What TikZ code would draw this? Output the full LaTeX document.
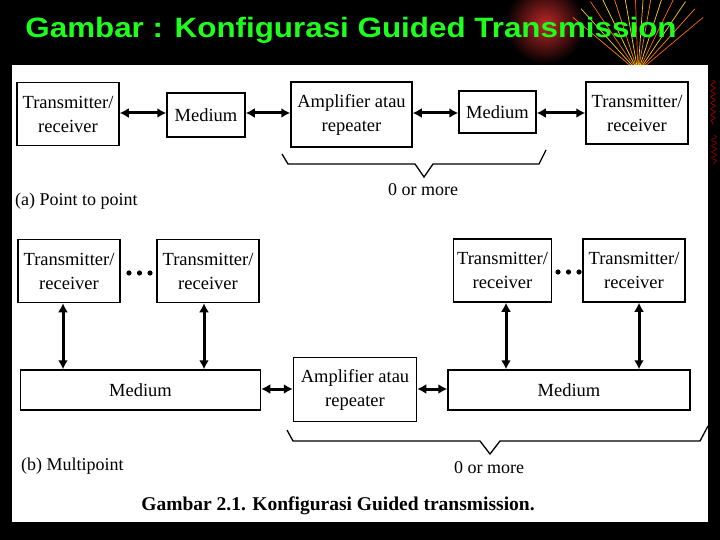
\documentclass[tikz,border=0pt]{standalone}
\usepackage{fontspec}
\setmainfont{Liberation Serif}
\newfontfamily\titlefont{Liberation Sans}
\usetikzlibrary{arrows.meta,decorations.pathmorphing,calc}
\definecolor{titlegreen}{RGB}{30,255,30}
\definecolor{glowred}{RGB}{190,40,40}
\tikzset{
 blk/.style={draw=black, line width=1.5pt, fill=white, inner sep=0pt, align=center, font=\fontsize{18.5}{24}\selectfont},
 arr/.style={draw=black, line width=3pt, >={Latex[length=9pt,width=10pt]}, <->},
 bracepath/.style={line width=1.3pt, line join=miter},
 lbl/.style={font=\fontsize{18}{20}\selectfont, inner sep=0pt},
 ray/.style={line width=0.7pt}
}
\begin{document}
\begin{tikzpicture}[x=1pt,y=-1pt]
\useasboundingbox (0,0) rectangle (720,540);
\fill[black] (0,0) rectangle (720,540);
% background decoration
\shade[inner color=glowred, outer color=black] (545,24) circle (40);
\foreach \a/\c in {100/orange,108/yellow!80!orange,116/orange!80!red,124/yellow!70!orange,132/orange,140/orange!80!red,72/orange,64/yellow!80!orange,56/orange!80!red,48/yellow!70!orange,40/orange,80/yellow!80!orange,88/orange!70!red,94/yellow!60!orange}{
  \draw[ray,\c] (638,72) -- ++(\a:-85);
}
\draw[red!60!black, line width=0.8pt, decorate, decoration={snake, amplitude=2pt, segment length=6pt}] (713,80) -- (713,125);
\draw[red!50!black, line width=0.8pt, decorate, decoration={snake, amplitude=2.5pt, segment length=6pt}] (714,135) -- (714,165);
% white panel
\fill[white] (12,65) rectangle (708,522);
% title
\node[text=titlegreen, inner sep=0pt] (title) at (351,30) {\scalebox{1.12}[1]{\titlefont\bfseries\fontsize{28}{30}\selectfont Gambar : Konfigurasi Guided Transmission}};

% (a) point to point
\node[blk, minimum width=102pt, minimum height=63pt] (tr1) at (68,114) {Transmitter/\\receiver};
\node[blk, minimum width=78pt, minimum height=44pt] (med1) at (206,115) {Medium};
\node[blk, minimum width=121pt, minimum height=65pt] (amp1) at (351.5,114.5) {Amplifier atau\\repeater};
\node[blk, minimum width=77pt, minimum height=42pt] (med2) at (497.5,112) {Medium};
\node[blk, minimum width=102pt, minimum height=62pt] (tr2) at (637,113) {Transmitter/\\receiver};

\draw[arr] (tr1.east |- 0,113) -- (med1.west |- 0,113);
\draw[arr] (med1.east |- 0,113) -- (amp1.west |- 0,113);
\draw[arr] (amp1.east |- 0,113) -- (med2.west |- 0,113);
\draw[arr] (med2.east |- 0,113) -- (tr2.west |- 0,113);

\draw[bracepath] (282,154) -- (288,164) -- (415,164) -- (424,177) -- (433,164) -- (539,164) -- (546,150);
\node[lbl] (more1) at (423,190) {0 or more};
\node[lbl, anchor=west] (laba) at (15,201) {(a) Point to point};

% (b) multipoint
\node[blk, minimum width=102pt, minimum height=63pt] (tr3) at (69,271) {Transmitter/\\receiver};
\node[blk, minimum width=102pt, minimum height=63pt] (tr4) at (208,271) {Transmitter/\\receiver};
\node[blk, minimum width=98pt, minimum height=63pt] (tr5) at (502.5,270.5) {Transmitter/\\receiver};
\node[blk, minimum width=102pt, minimum height=63pt] (tr6) at (634,270.5) {Transmitter/\\receiver};
\node[blk, minimum width=240pt, minimum height=40pt] (med3) at (140.5,390) {Medium};
\node[blk, minimum width=123pt, minimum height=64pt] (amp2) at (355,389.5) {Amplifier atau\\repeater};
\node[blk, minimum width=242pt, minimum height=40pt] (med4) at (569,390) {Medium};

\foreach \x in {129,139.5,150}{\fill (\x,273) circle (2.6);}
\foreach \x in {558,568.5,579}{\fill (\x,272) circle (2.6);}

\draw[arr] (tr3.south -| 63,0) -- (med3.north -| 63,0);
\draw[arr] (tr4.south -| 204,0) -- (med3.north -| 204,0);
\draw[arr] (tr5.south -| 506,0) -- (med4.north -| 506,0);
\draw[arr] (tr6.south -| 639,0) -- (med4.north -| 639,0);
\draw[arr] (med3.east |- 0,389) -- (amp2.west |- 0,389);
\draw[arr] (amp2.east |- 0,389) -- (med4.west |- 0,389);

\draw[bracepath] (287,430) -- (293,441) -- (480,441) -- (490,454) -- (500,441) -- (700,441) -- (708,426);
\node[lbl] (more2) at (489,468) {0 or more};
\node[lbl, anchor=west] (labb) at (21,466) {(b) Multipoint};

\node[inner sep=0pt, font=\bfseries\fontsize{19.5}{22}\selectfont] (cap) at (338,506) {Gambar 2.1. Konfigurasi Guided transmission.};
\end{tikzpicture}
\end{document}
